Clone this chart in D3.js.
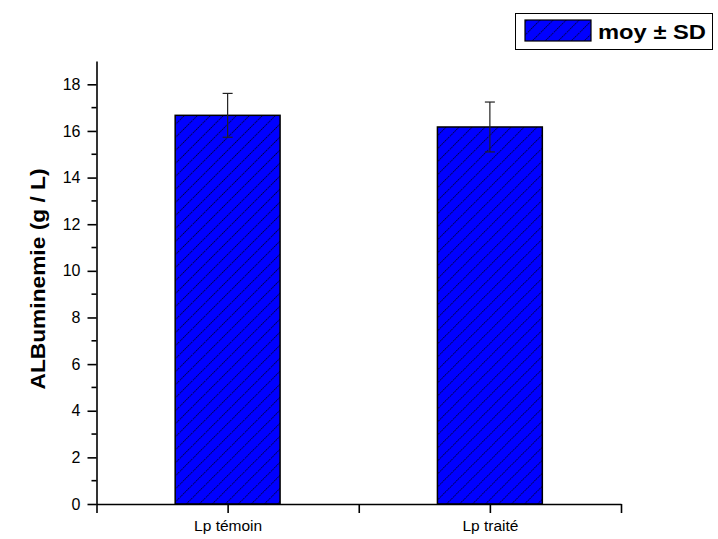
<!DOCTYPE html>
<html><head><meta charset="utf-8">
<script src="https://cdn.jsdelivr.net/npm/d3@7"></script>
<style>body{margin:0;background:#fff}svg{display:block}</style>
</head><body>
<script>
const categories = ["Lp témoin", "Lp traité"];
const means = [16.67, 16.17];
const sds = [0.94, 1.07];
const yTicks = [0, 2, 4, 6, 8, 10, 12, 14, 16, 18];
const yMinorTicks = [1, 3, 5, 7, 9, 11, 13, 15, 17];
const legendLabel = "moy ± SD";
const yTitle = "ALBuminemie (g / L)";

const W = 718, H = 539;
const svg = d3.select("body").append("svg").attr("width", W).attr("height", H);
const font = "'Liberation Sans', Arial, sans-serif";

const defs = svg.append("defs");
const pat = defs.append("pattern").attr("id", "hatch").attr("patternUnits", "userSpaceOnUse")
  .attr("width", 9.2).attr("height", 9.2).attr("patternTransform", "rotate(45)");
pat.append("rect").attr("width", 9.2).attr("height", 9.2).attr("fill", "#0000ff");
pat.append("line").attr("x1", 0.5).attr("y1", 0).attr("x2", 0.5).attr("y2", 9.2)
  .attr("stroke", "#000").attr("stroke-width", 0.7).attr("stroke-dasharray", "1.5,0.8");

const x = d3.scaleLinear().domain([0.5, 2.5]).range([96.5, 621]);
const y = d3.scaleLinear().domain([0, 19]).range([504, 61]);
const barW = 0.4;

// bars
svg.selectAll("rect.bar").data(means).enter().append("rect")
  .attr("class", "bar")
  .attr("x", (d, i) => x(i + 1 - barW / 2))
  .attr("width", (d, i) => x(i + 1 + barW / 2) - x(i + 1 - barW / 2))
  .attr("y", d => y(d))
  .attr("height", d => y(0) - y(d))
  .attr("fill", "url(#hatch)").attr("stroke", "#000").attr("stroke-width", 1.5);

// error bars
const eb = svg.selectAll("g.err").data(means).enter().append("g").attr("class", "err");
eb.append("line").attr("x1", (d, i) => x(i + 1)).attr("x2", (d, i) => x(i + 1))
  .attr("y1", (d, i) => y(d + sds[i])).attr("y2", (d, i) => y(d - sds[i]))
  .attr("stroke", "#222").attr("stroke-width", 1.2);
[1, -1].forEach(s => {
  eb.append("line").attr("x1", (d, i) => x(i + 1) - 5).attr("x2", (d, i) => x(i + 1) + 5)
    .attr("y1", (d, i) => y(d + s * sds[i])).attr("y2", (d, i) => y(d + s * sds[i]))
    .attr("stroke", "#222").attr("stroke-width", 1.2);
});

// y axis
const yAxis = svg.append("g").attr("transform", "translate(96.5,0)")
  .call(d3.axisLeft(y).tickValues(yTicks).tickSize(9).tickPadding(7).tickSizeOuter(0));
yAxis.append("g").selectAll("line").data(yMinorTicks).enter().append("line")
  .attr("x1", -5).attr("x2", 0).attr("y1", d => y(d)).attr("y2", d => y(d)).attr("stroke", "#000");
yAxis.selectAll("text").attr("font-family", font).attr("font-size", 16).attr("fill", "#000");
yAxis.selectAll("path, line").attr("stroke", "#000").attr("stroke-width", 1.6);

// x axis
const xAxis = svg.append("g").attr("transform", "translate(0,504)")
  .call(d3.axisBottom(x).tickValues([0.5, 1, 1.5, 2, 2.5]).tickSize(9).tickPadding(7).tickSizeOuter(0)
    .tickFormat(d => Number.isInteger(d) ? categories[d - 1] : ""));
xAxis.selectAll("text").attr("font-family", font).attr("font-size", 15.5).attr("fill", "#000");
xAxis.selectAll("path, line").attr("stroke", "#000").attr("stroke-width", 1.6);

// y title
svg.append("text").attr("transform", "translate(45,279) rotate(-90)")
  .attr("text-anchor", "middle").attr("font-family", font).attr("font-weight", "bold")
  .attr("font-size", 21).attr("textLength", 221).attr("lengthAdjust", "spacingAndGlyphs").text(yTitle);

// legend
const lg = svg.append("g");
lg.append("rect").attr("x", 515.5).attr("y", 13.5).attr("width", 197).attr("height", 36)
  .attr("fill", "#fff").attr("stroke", "#000").attr("stroke-width", 1);
lg.append("rect").attr("x", 525).attr("y", 20).attr("width", 66).attr("height", 21)
  .attr("fill", "url(#hatch)").attr("stroke", "#000").attr("stroke-width", 1.2);
lg.append("text").attr("x", 598).attr("y", 38.5).attr("font-family", font).attr("font-weight", "bold")
  .attr("font-size", 21).attr("textLength", 108).attr("lengthAdjust", "spacingAndGlyphs").text(legendLabel);
</script>
</body></html>
